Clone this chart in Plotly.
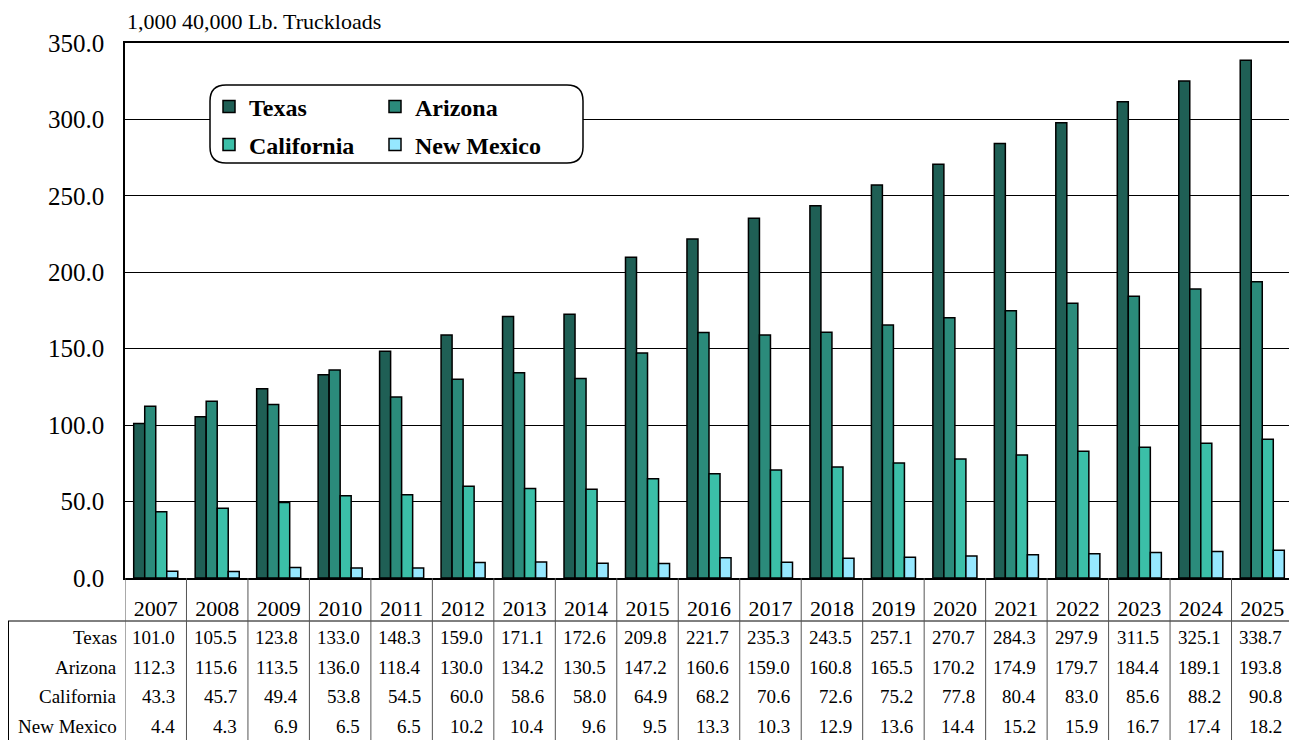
import plotly.graph_objects as go

years = [str(y) for y in range(2007, 2026)]
texas = [101.0, 105.5, 123.8, 133.0, 148.3, 159.0, 171.1, 172.6, 209.8, 221.7,
         235.3, 243.5, 257.1, 270.7, 284.3, 297.9, 311.5, 325.1, 338.7]
arizona = [112.3, 115.6, 113.5, 136.0, 118.4, 130.0, 134.2, 130.5, 147.2, 160.6,
           159.0, 160.8, 165.5, 170.2, 174.9, 179.7, 184.4, 189.1, 193.8]
california = [43.3, 45.7, 49.4, 53.8, 54.5, 60.0, 58.6, 58.0, 64.9, 68.2,
              70.6, 72.6, 75.2, 77.8, 80.4, 83.0, 85.6, 88.2, 90.8]
new_mexico = [4.4, 4.3, 6.9, 6.5, 6.5, 10.2, 10.4, 9.6, 9.5, 13.3,
              10.3, 12.9, 13.6, 14.4, 15.2, 15.9, 16.7, 17.4, 18.2]

series_names = ["Texas", "Arizona", "California", "New Mexico"]
series_values = [texas, arizona, california, new_mexico]
series_colors = ["#1F5F55", "#2B8B7B", "#3BBFA8", "#96E8FF"]
series_legends = ["legend", "legend", "legend2", "legend2"]

title_text = "1,000 40,000 Lb. Truckloads"

FONT = "Liberation Serif, Times New Roman, serif"
# page body has an 8px margin; figure starts at (8, 8) on screen
OFF = 8
W, H = 1297 - OFF, 740 - OFF
PLOT_L, PLOT_R, PLOT_T, PLOT_B = 125, 1293, 43, 578  # screen pixels
L = PLOT_L - OFF
T = PLOT_T - OFF
R = W + OFF - PLOT_R
B = H + OFF - PLOT_B
PW, PH = PLOT_R - PLOT_L, PLOT_B - PLOT_T


def px_x(p):
    return (p - PLOT_L) / PW


def px_y(p):
    return (PLOT_B - p) / PH


fig = go.Figure()
for name, vals, col, lg in zip(series_names, series_values, series_colors, series_legends):
    fig.add_trace(go.Bar(
        x=years, y=vals, name=name, legend=lg,
        marker=dict(color=col, line=dict(color="black", width=1.5)),
    ))

annotations = [dict(
    text=title_text, xref="paper", yref="paper", x=px_x(126), y=px_y(22),
    xanchor="left", yanchor="middle", showarrow=False, borderpad=0,
    font=dict(family=FONT, size=22, color="black"),
)]

row_y = [637, 667, 696, 726]
for name, vals, ry in zip(series_names, series_values, row_y):
    annotations.append(dict(
        text=name, xref="paper", yref="paper", x=0, y=px_y(ry),
        xanchor="right", yanchor="middle", xshift=-6, showarrow=False,
        font=dict(family=FONT, size=19, color="black"),
    ))
    for i, v in enumerate(vals):
        annotations.append(dict(
            text=f"{v:.1f}", xref="x", yref="paper", x=i + 0.5, y=px_y(ry),
            xanchor="right", yanchor="middle", xshift=-9, showarrow=False,
            font=dict(family=FONT, size=19, color="black"),
        ))

shapes = []
# table horizontal line and left border
shapes.append(dict(type="line", xref="paper", yref="paper",
                   x0=px_x(8), x1=1, y0=px_y(621), y1=px_y(621),
                   line=dict(color="black", width=1)))
shapes.append(dict(type="line", xref="paper", yref="paper",
                   x0=px_x(8.5), x1=px_x(8.5), y0=px_y(621), y1=px_y(742),
                   line=dict(color="black", width=1)))
for i in range(len(years) + 1):
    shapes.append(dict(type="line", xref="x", yref="paper",
                       x0=i - 0.5, x1=i - 0.5, y0=0, y1=px_y(742),
                       line=dict(color="#555555", width=1)))

# rounded legend box
x0, x1, y0, y1 = px_x(210), px_x(583), px_y(163), px_y(85)
rx, ry_ = 16 / PW, 16 / PH
path = (f"M {x0+rx},{y1} L {x1-rx},{y1} Q {x1},{y1} {x1},{y1-ry_} "
        f"L {x1},{y0+ry_} Q {x1},{y0} {x1-rx},{y0} L {x0+rx},{y0} "
        f"Q {x0},{y0} {x0},{y0+ry_} L {x0},{y1-ry_} Q {x0},{y1} {x0+rx},{y1} Z")
shapes.append(dict(type="path", xref="paper", yref="paper", path=path,
                   fillcolor="white", line=dict(color="black", width=1.5),
                   layer="above"))

legend_common = dict(
    orientation="h", xref="paper", yref="paper", xanchor="left", yanchor="middle",
    bgcolor="rgba(0,0,0,0)", borderwidth=0, entrywidth=121, entrywidthmode="pixels",
    font=dict(family=FONT, size=24, color="black", weight="bold"),
    itemclick=False, itemdoubleclick=False,
)

fig.update_layout(
    width=W, height=H,
    margin=dict(l=L, r=R, t=T, b=B, autoexpand=False),
    paper_bgcolor="white", plot_bgcolor="white",
    barmode="group", bargap=0.283, bargroupgap=0,
    font=dict(family=FONT, color="black"),
    legend=dict(legend_common, x=px_x(209), y=px_y(107)),
    legend2=dict(legend_common, x=px_x(209), y=px_y(145)),
    annotations=annotations,
    shapes=shapes,
    xaxis=dict(
        type="category", range=[-0.5, len(years) - 0.5],
        showline=True, mirror=True, linecolor="black", linewidth=1.5,
        showgrid=False, ticks="", ticklabelstandoff=10,
        tickfont=dict(family=FONT, size=22, color="black"),
    ),
    yaxis=dict(
        range=[0, 350], dtick=50, tickformat=".1f",
        showline=True, mirror=True, linecolor="black", linewidth=1.5,
        showgrid=True, gridcolor="black", gridwidth=1, zeroline=False,
        ticks="", ticklabelstandoff=14,
        tickfont=dict(family=FONT, size=25, color="black"),
    ),
)

fig.write_html("out.html")
